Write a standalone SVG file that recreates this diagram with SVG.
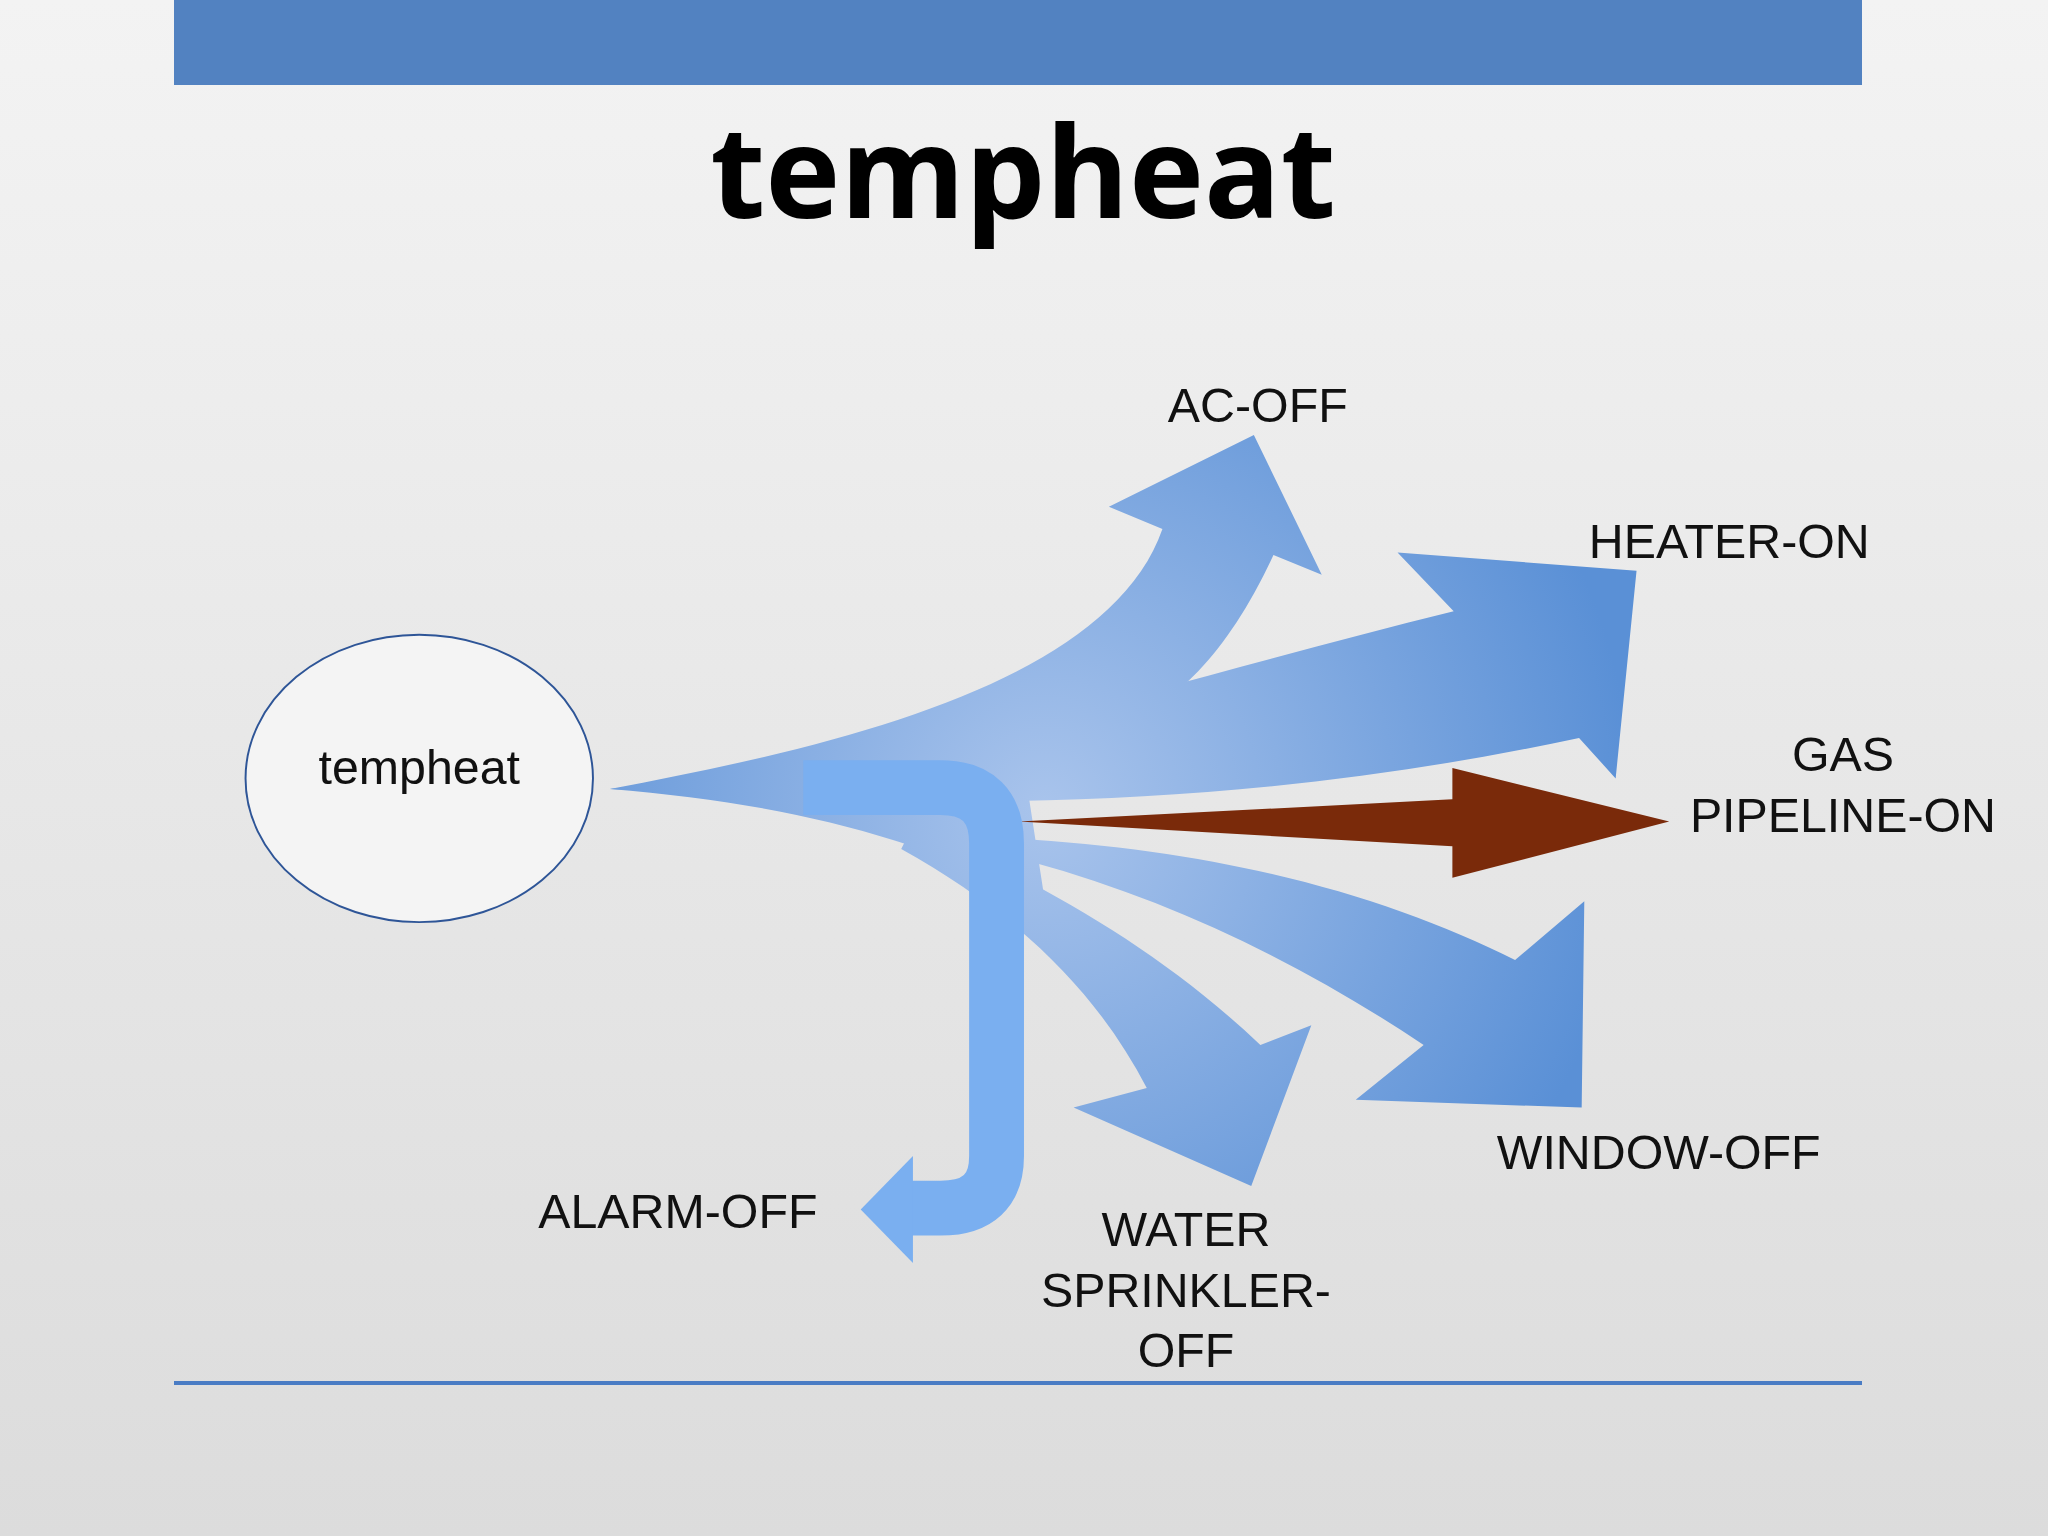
<svg xmlns="http://www.w3.org/2000/svg" width="2048" height="1536" viewBox="0 0 2048 1536">
<defs>
<linearGradient id="bg" x1="0" y1="0" x2="0" y2="1"><stop offset="0" stop-color="#f3f3f3"/><stop offset="1" stop-color="#dcdcdc"/></linearGradient>
<radialGradient id="ar" gradientUnits="userSpaceOnUse" cx="800" cy="620" r="450"><stop offset="0" stop-color="#a9c4ec"/><stop offset="1" stop-color="#5a90d6"/></radialGradient>
<style>.lb{font-family:"Liberation Sans",Arial,sans-serif;font-size:37px;fill:#111;text-anchor:middle}.a{fill:url(#ar)}</style>
</defs>
<rect width="2048" height="1536" fill="url(#bg)"/>
<rect x="174" y="0" width="1688" height="85" fill="#5282c1"/>
<text x="1023" y="218" font-family="'Open Sans','DejaVu Sans',sans-serif" font-weight="bold" font-size="127" text-anchor="middle" fill="#000">tempheat</text>
<rect x="174" y="1381" width="1688" height="4" fill="#4a7cc4"/>
<g transform="scale(1.3061)">
<g id="node-tempheat">
<ellipse cx="321" cy="596" rx="133" ry="110" fill="#f4f4f4" stroke="#2e5597" stroke-width="1.5"/>
<text class="lb" x="321" y="600">tempheat</text>
</g>
<g id="connectors">
<path class="a" d="M467,604 C600,590 700,570 780,560 L800,690 C700,640 600,615 467,604 Z"/>
<path class="a" d="M467,604 C650,570 850,520 890,405 L849,388 L960,333 L1012,440 L975,425 C940,500 900,540 850,560 C760,585 650,600 467,604 Z"/>
<path class="a" d="M467,604 C700,590 900,520 1113,468 L1070,423 L1253,437 L1237,596 L1209,565 C1000,610 800,620 600,610 Z"/>
<path class="a" d="M700,640 C900,640 1050,680 1160,735 L1213,690 L1211,848 L1038,842 L1090,800 C1000,740 900,690 790,660 Z"/>
<path class="a" d="M700,630 C800,680 880,720 965,800 L1004,785 L958,908 L822,848 L878,833 C840,760 780,700 690,650 Z"/>
<path d="M780,629 L1112,612 L1112,588 L1278,629 L1112,672 L1112,648 Z" fill="#7a2a0a"/>
<path d="M615,603 H720 Q763,603 763,646 V885 Q763,925 720,925 H698" fill="none" stroke="#7aaff0" stroke-width="42"/>
<polygon points="699,885 659,926 699,967" fill="#7aaff0"/>
</g>
<g id="labels">
<text class="lb" x="963" y="323">AC-OFF</text>
<text class="lb" x="1324" y="427">HEATER-ON</text>
<text class="lb" x="1411" y="590">GAS</text>
<text class="lb" x="1411" y="637">PIPELINE-ON</text>
<text class="lb" x="1270" y="895">WINDOW-OFF</text>
<text class="lb" x="519" y="940">ALARM-OFF</text>
<text class="lb" x="908" y="954">WATER</text>
<text class="lb" x="908" y="1001">SPRINKLER-</text>
<text class="lb" x="908" y="1047">OFF</text>
</g>
</g>
</svg>
